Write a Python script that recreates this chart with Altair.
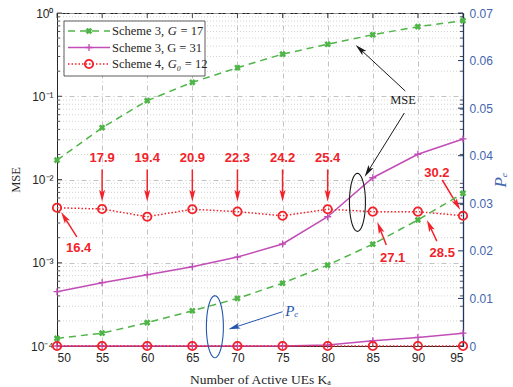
import math
import altair as alt
import pandas as pd

# ---------------- data ----------------
ka = [50, 55, 60, 65, 70, 75, 80, 85, 90, 95]
mse_g17 = [0.0171, 0.0419, 0.0885, 0.147, 0.220, 0.321, 0.421, 0.548, 0.685, 0.809]
mse_g31 = [4.49e-4, 5.76e-4, 7.19e-4, 8.96e-4, 1.17e-3, 1.68e-3, 3.57e-3, 1.05e-2, 2.01e-2, 3.07e-2]
mse_s4 = [4.58e-3, 4.42e-3, 3.57e-3, 4.39e-3, 4.11e-3, 3.67e-3, 4.39e-3, 4.11e-3, 4.11e-3, 3.67e-3]
pe_g17 = [0.0016, 0.0027, 0.0049, 0.0074, 0.0100, 0.0132, 0.0170, 0.0214, 0.0265, 0.0321]
pe_g31 = [0.0, 0.0, 0.0, 0.0, 0.0, 0.0, 0.0002, 0.0011, 0.0018, 0.0027]
pe_s4 = [0.0, 0.0, 0.0, 0.0, 0.0, 0.0, 0.0, 0.0, 0.0, 0.0]
g0_labels = ["16.4", "17.9", "19.4", "20.9", "22.3", "24.2", "25.4", "27.1", "28.5", "30.2"]
# legend text pieces: (upright prefix, italic part, upright suffix)
legend_parts = [("Scheme 3,", "G", "= 17"),
                ("Scheme 3, G = 31", "", ""),
                ("Scheme 4,", "G\u2080", "= 12")]
mse_ticks = [1e-4, 1e-3, 1e-2, 1e-1, 1.0]
pe_ticks = [0.0, 0.01, 0.02, 0.03, 0.04, 0.05, 0.06, 0.07]

# ---------------- style ----------------
W, H = 406, 333
GREEN = "#4fb548"
MAGENTA = "#c24db6"
RED = "#f2222a"
BLUE = "#2456ad"
AXBLUE = "#4466b0"
SANS = "Liberation Sans"
SERIF = "Liberation Serif"
GRIDC = "#b4b4b4"
LEG_FS = 12.5


def px(k):
    return (k - 50) / 45 * W


def inv_px(p):
    return 50 + p / W * 45


def py_mse(v):
    return -math.log10(v) / 4 * H


def inv_py_mse(p):
    return 10 ** (-4 * p / H)


def py_pe(v):
    return (0.07 - v) / 0.07 * H


def inv_py_pe(p):
    return 0.07 - p / H * 0.07


ARROW = "M0,-1L0.5,1L0,0.55L-0.5,1Z"
VLEN = 12.0


def arrow(k0, v0, k1, v1, fy, iy, col, sw):
    x0, y0, x1, y1 = px(k0), fy(v0), px(k1), fy(v1)
    dx, dy = x1 - x0, y1 - y0
    L = math.hypot(dx, dy)
    ux, uy = dx / L, dy / L
    ang = math.degrees(math.atan2(ux, -uy)) % 360
    ex, ey = x1 - ux * VLEN * 0.6, y1 - uy * VLEN * 0.6
    cx, cy = x1 - ux * VLEN / 2, y1 - uy * VLEN / 2
    shaft = dict(ka=k0, val=v0, ka2=inv_px(ex), val2=iy(ey), col=col, sw=sw)
    head = dict(ka=inv_px(cx), val=iy(cy), ang=ang, col=col)
    return shaft, head


def ellipse_path(rx):
    pts = []
    for i in range(48):
        t = 2 * math.pi * i / 48
        pts.append(f"{rx * math.sin(t):.4f},{-math.cos(t):.4f}")
    return "M" + "L".join(pts) + "Z"


# rough Times/Liberation Serif advance widths (em) for legend piece placement
SERIF_W = {"S": 0.556, "c": 0.444, "h": 0.5, "e": 0.444, "m": 0.778, " ": 0.25,
           "3": 0.5, "4": 0.5, ",": 0.25, "G": 0.722, "\u2080": 0.33, "=": 0.564,
           "1": 0.5, "2": 0.5, "7": 0.5}
GAP = 0.3  # extra em gap between pieces (a space, math-style)


def text_w(s, fs):
    return sum(SERIF_W.get(ch, 0.5) for ch in s) * fs


# ---------------- scales / encodings ----------------
X = alt.X("ka:Q", scale=alt.Scale(domain=[50, 95], nice=False, zero=False),
          axis=alt.Axis(values=ka, title="Number of Active UEs K\u2090", grid=True,
                        gridDash=[5, 3, 1, 3], gridColor=GRIDC, gridWidth=0.8,
                        ticks=False, labelPadding=6, labelFont=SANS, labelFontSize=12,
                        labelColor="#262626", titleFont=SERIF, titleFontSize=13.5,
                        titleFontWeight="normal", titleColor="#262626", titlePadding=9,
                        domainColor="#262626"))
X2 = alt.X2("ka2:Q")

label_expr = ("datum.value >= 0.5 ? '10\u2070' : datum.value >= 0.05 ? '10\u207b\u00b9' : "
              "datum.value >= 0.005 ? '10\u207b\u00b2' : datum.value >= 0.0005 ? '10\u207b\u00b3' : '10\u207b\u2074'")

YL = alt.Y("val:Q", scale=alt.Scale(type="log", domain=[1e-4, 1], nice=False),
           axis=alt.Axis(orient="left", values=mse_ticks, labelExpr=label_expr, grid=True,
                         gridDash=[5, 3, 1, 3], gridColor=GRIDC, gridWidth=0.8,
                         ticks=False, labelPadding=4, labelFont=SANS, labelFontSize=12,
                         labelColor="#262626", title="MSE", titleFont=SERIF,
                         titleFontSize=12.5, titleFontWeight="normal", titleColor="#262626",
                         titlePadding=8, domainColor="#262626"))
YL2 = alt.Y2("val2:Q")

pe_expr = "datum.value == 0 ? '0' : format(datum.value, '.2f')"
YR = alt.Y("val:Q", scale=alt.Scale(domain=[0, 0.07], nice=False, zero=True),
           axis=alt.Axis(orient="right", values=pe_ticks, labelExpr=pe_expr, grid=False,
                         ticks=False, labelPadding=6, labelFont=SANS, labelFontSize=12,
                         labelColor=AXBLUE, title="P\u2091", titleFont=SERIF,
                         titleFontStyle="italic", titleFontSize=17, titleFontWeight="normal",
                         titleColor=AXBLUE, titleAngle=270, titlePadding=17,
                         domainColor="#1f3566", domainWidth=1.3))
YR2 = alt.Y2("val2:Q")


def series(values, color, dash, shape, size, filled, sw, yenc, angle=0):
    df = pd.DataFrame({"ka": ka, "val": values})
    line_kw = dict(color=color, strokeWidth=1.5)
    if dash:
        line_kw["strokeDash"] = dash
    line = alt.Chart(df).mark_line(**line_kw).encode(x=X, y=yenc)
    pt_kw = dict(shape=shape, size=size, filled=filled, color=color, strokeWidth=sw, opacity=1)
    if angle:
        pt_kw["angle"] = angle
    pts = alt.Chart(df).mark_point(**pt_kw).encode(x=X, y=yenc)
    return [line, pts]


PLUS = "M-1,0L1,0M0,-1L0,1"

# ---------------- left (MSE) group ----------------
minor_vals = [m * 10 ** e for e in range(-4, 0) for m in range(2, 10)]
minor_df = pd.DataFrame({"val": minor_vals})
major_df = pd.DataFrame({"val": mse_ticks})
ka_df = pd.DataFrame({"ka": ka})

minor_grid = alt.Chart(minor_df).mark_rule(color="#c8c8c8", strokeDash=[1, 2], strokeWidth=0.8).encode(y=YL)
tick_l_minor = alt.Chart(minor_df).mark_rule(color="#262626", strokeWidth=0.8).encode(
    y=YL, x=alt.value(0), x2=alt.value(3))
tick_r_minor = alt.Chart(minor_df).mark_rule(color="#262626", strokeWidth=0.8).encode(
    y=YL, x=alt.value(W - 3), x2=alt.value(W))
tick_l_major = alt.Chart(major_df).mark_rule(color="#262626", strokeWidth=0.8).encode(
    y=YL, x=alt.value(0), x2=alt.value(5))
tick_x_bot = alt.Chart(ka_df).mark_rule(color="#262626", strokeWidth=0.8).encode(
    x=X, y=alt.value(H), y2=alt.value(H - 5))
tick_x_top = alt.Chart(ka_df).mark_rule(color="#262626", strokeWidth=0.8).encode(
    x=X, y=alt.value(0), y2=alt.value(5))

# annotations (left)
shafts, heads, texts = [], [], []
for i in range(1, 7):
    s, h = arrow(ka[i], 0.0132, ka[i], 0.0054, py_mse, inv_py_mse, RED, 1.5)
    shafts.append(s); heads.append(h)
    texts.append(dict(ka=ka[i], val=0.0181, t=g0_labels[i]))
for (tk, tv, k0, v0, k1, v1, lab) in [
        (52.4, 1.50e-3, 52.2, 2.04e-3, 50.45, 4.07e-3, g0_labels[0]),
        (87.2, 1.14e-3, 86.5, 1.63e-3, 85.5, 3.09e-3, g0_labels[7]),
        (92.7, 1.31e-3, 92.1, 1.82e-3, 91.0, 3.26e-3, g0_labels[8]),
        (92.1, 1.20e-2, 92.7, 9.86e-3, 94.7, 4.30e-3, g0_labels[9])]:
    s, h = arrow(k0, v0, k1, v1, py_mse, inv_py_mse, RED, 1.5)
    shafts.append(s); heads.append(h)
    texts.append(dict(ka=tk, val=tv, t=lab))
for (k0, v0, k1, v1) in [(88.6, 0.1156, 83.1, 0.413), (88.5, 0.0629, 84.1, 0.0108)]:
    s, h = arrow(k0, v0, k1, v1, py_mse, inv_py_mse, "#1a1a1a", 1.0)
    shafts.append(s); heads.append(h)

shaft_df = pd.DataFrame(shafts)
head_df = pd.DataFrame(heads)
text_df = pd.DataFrame(texts)

shaft_l = alt.Chart(shaft_df).mark_rule().encode(
    x=X, y=YL, x2=X2, y2=YL2,
    color=alt.Color("col:N", scale=None), strokeWidth=alt.StrokeWidth("sw:Q", scale=None))
head_l = alt.Chart(head_df).mark_point(shape=ARROW, filled=True, size=VLEN ** 2, opacity=1).encode(
    x=X, y=YL, angle=alt.Angle("ang:Q", scale=None), color=alt.Color("col:N", scale=None))
text_l = alt.Chart(text_df).mark_text(font=SANS, fontSize=13, fontWeight="bold", color=RED,
                                      align="center", baseline="middle").encode(
    x=X, y=YL, text="t:N")
mse_text = alt.Chart(pd.DataFrame({"ka": [88.35], "val": [0.0902], "t": ["MSE"]})).mark_text(
    font=SERIF, fontSize=12.5, color="#1a1a1a", align="center", baseline="middle").encode(
    x=X, y=YL, text="t:N")
ell_black = alt.Chart(pd.DataFrame({"ka": [83.3], "val": [5.32e-3]})).mark_point(
    shape=ellipse_path(8 / 29), size=58 ** 2, filled=False, color="#1a1a1a", strokeWidth=1.1,
    opacity=1).encode(x=X, y=YL)

left_layers = [minor_grid, tick_l_minor, tick_r_minor, tick_l_major, tick_x_bot, tick_x_top]
left_layers += series(mse_g17, GREEN, [7, 5], "cross", 45, True, 1, YL, angle=45)
left_layers += series(mse_g31, MAGENTA, None, PLUS, 49, False, 1.3, YL)
left_layers += series(mse_s4, RED, [1.5, 2], "circle", 70, False, 1.8, YL)
left_layers += [shaft_l, head_l, text_l, mse_text, ell_black]
left = alt.layer(*left_layers)

# ---------------- right (Pe) group ----------------
pe_tick_df = pd.DataFrame({"val": pe_ticks})
tick_r_pe = alt.Chart(pe_tick_df).mark_rule(color="#1f3566", strokeWidth=1).encode(
    y=YR, x=alt.value(W - 5), x2=alt.value(W))

s_b, h_b = arrow(75.0, 0.00721, 69.0, 0.00351, py_pe, inv_py_pe, BLUE, 1.0)
shaft_r = alt.Chart(pd.DataFrame([s_b])).mark_rule().encode(
    x=X, y=YR, x2=X2, y2=YR2,
    color=alt.Color("col:N", scale=None), strokeWidth=alt.StrokeWidth("sw:Q", scale=None))
head_r = alt.Chart(pd.DataFrame([h_b])).mark_point(shape=ARROW, filled=True, size=VLEN ** 2, opacity=1).encode(
    x=X, y=YR, angle=alt.Angle("ang:Q", scale=None), color=alt.Color("col:N", scale=None))
pe_text = alt.Chart(pd.DataFrame({"ka": [75.3], "val": [0.0073], "t": ["P\u2091"]})).mark_text(
    font=SERIF, fontSize=15, fontStyle="italic", color=BLUE, align="left", baseline="middle").encode(
    x=X, y=YR, text="t:N")
ell_blue = alt.Chart(pd.DataFrame({"ka": [67.5], "val": [0.00406]})).mark_point(
    shape=ellipse_path(8.5 / 31), size=62 ** 2, filled=False, color=BLUE, strokeWidth=1.1,
    opacity=1).encode(x=X, y=YR)

# legend (drawn by hand, in pixels of the plot area)
one = pd.DataFrame({"a": [0]})
leg = [alt.Chart(one).mark_rect(fill="white", stroke="#333333", strokeWidth=0.8).encode(
    x=alt.value(7), x2=alt.value(148), y=alt.value(8), y2=alt.value(63))]
leg_styles = [
    (GREEN, [7, 5], dict(shape="cross", size=45, filled=True, angle=45, strokeWidth=1)),
    (MAGENTA, None, dict(shape=PLUS, size=49, filled=False, strokeWidth=1.3)),
    (RED, [1.5, 2], dict(shape="circle", size=70, filled=False, strokeWidth=1.8)),
]
for i, (col, dash, pkw) in enumerate(leg_styles):
    yy = 18 + i * 16.5
    rkw = dict(color=col, strokeWidth=1.5)
    if dash:
        rkw["strokeDash"] = dash
    leg.append(alt.Chart(one).mark_rule(**rkw).encode(
        x=alt.value(11), x2=alt.value(53), y=alt.value(yy)))
    leg.append(alt.Chart(one).mark_point(color=col, opacity=1, **pkw).encode(
        x=alt.value(32), y=alt.value(yy)))
    pre, ital, post = legend_parts[i]
    xx = 55.0
    for piece, style in [(pre, "normal"), (ital, "italic"), (post, "normal")]:
        if not piece:
            continue
        leg.append(alt.Chart(pd.DataFrame({"t": [piece]})).mark_text(
            font=SERIF, fontSize=LEG_FS, fontStyle=style, color="#262626", align="left",
            baseline="middle").encode(x=alt.value(xx), y=alt.value(yy), text="t:N"))
        xx += text_w(piece, LEG_FS) + GAP * LEG_FS

right_layers = [tick_r_pe]
right_layers += series(pe_g17, GREEN, [7, 5], "cross", 45, True, 1, YR, angle=45)
right_layers += series(pe_g31, MAGENTA, None, PLUS, 49, False, 1.3, YR)
right_layers += series(pe_s4, RED, [1.5, 2], "circle", 70, False, 1.8, YR)
right_layers += [shaft_r, head_r, pe_text, ell_blue] + leg
right = alt.layer(*right_layers)

chart = alt.layer(left, right).resolve_scale(y="independent").properties(
    width=W, height=H,
    padding={"left": 57, "top": 13, "right": 50, "bottom": 41},
    autosize=alt.AutoSizeParams(type="none"),
    background="white",
).configure_view(stroke="#262626", strokeWidth=1)

chart.save("out.html", embed_options={"renderer": "svg", "actions": False})
